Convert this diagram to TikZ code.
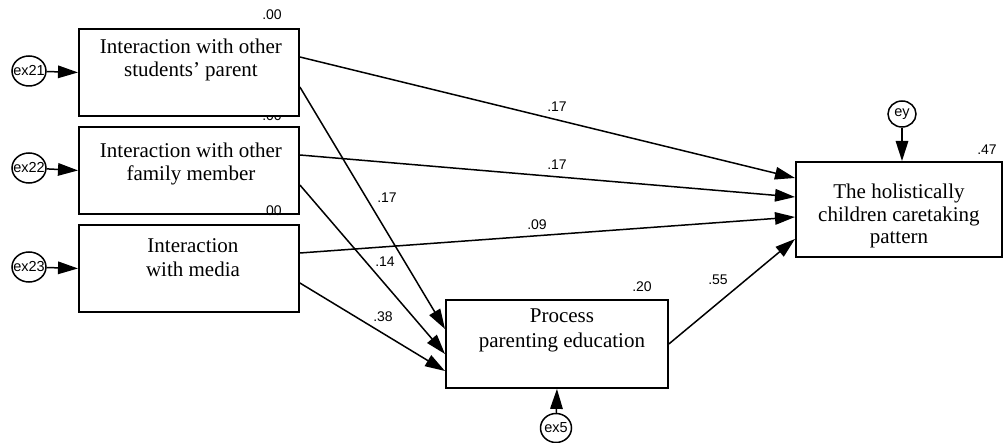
\documentclass[tikz,border=0pt]{standalone}
\usepackage{fontspec}
\setmainfont{Liberation Serif}
\setsansfont{Liberation Sans}
\usetikzlibrary{shapes.geometric,arrows.meta,calc}
\tikzset{
  box/.style={draw, line width=1.9pt, fill=white, anchor=north west, inner sep=0pt},
  btext/.style={anchor=north, align=center, inner sep=0pt, font=\fontsize{21}{22.5}\selectfont},
  err/.style={ellipse, draw, line width=1.5pt, fill=white, inner sep=0pt, minimum width=34pt, minimum height=30pt,
    label={[font=\fontsize{14.5}{15}\selectfont\sffamily, inner sep=0pt]center:#1}},
  coef/.style={font=\fontsize{14}{15}\selectfont\sffamily, inner sep=0pt},
  arr/.style={line width=1.5pt, -{Triangle[length=20pt,width=12.5pt]}},
}
\begin{document}
\begin{tikzpicture}[x=1pt,y=-1pt]
\useasboundingbox (0,0) rectangle (1004,443);
% label partly hidden by the first box
\node[coef] (r2) at (272,116) {.00};
% boxes
\node[box, minimum width=220pt, minimum height=87pt] (b1) at (78,28) {};
\node[box, minimum width=220pt, minimum height=87pt] (b2) at (78,126) {};
\node[box, minimum width=220pt, minimum height=87pt] (b3) at (78,224) {};
\node[box, minimum width=222pt, minimum height=88pt] (proc) at (445,299) {};
\node[box, minimum width=206pt, minimum height=95pt] (hol) at (795,161) {};
% box texts
\node[btext] (t1) at ($(b1.north)+(2,11)$) {Interaction with other\\students’ parent};
\node[btext] (t2) at ($(b2.north)+(2,17)$) {Interaction with other\\family member};
\node[btext] (t3) at ($(b3.north)+(4,14)$) {Interaction\\[2pt]with media};
\node[btext] (tp) at ($(proc.north)+(5,10)$) {Process\\[2.5pt]parenting education};
\node[btext] (th) at ($(hol.north)+(0,23)$) {The holistically\\children caretaking\\pattern};
% error terms
\node[err=ex21] (e21) at (29,71) {};
\node[err=ex22] (e22) at (29,168) {};
\node[err=ex23] (e23) at (29,267) {};
\node[err=ey, minimum width=28pt, minimum height=26pt] (ey) at (902,114) {};
\node[err=ex5, minimum width=31pt, minimum height=29pt] (e5) at (556,428) {};
% arrows from error terms
\draw[arr] (e21) -- (b1.west);
\draw[arr] (e22) -- (b2.west);
\draw[arr] (e23) -- (b3.west);
\draw[arr] (ey) -- (ey |- hol.north);
\draw[arr] (e5) -- (proc.south);
% paths
\draw[arr] ($(b1.north east)+(0,29)$) -- ($(hol.north west)+(0,17)$);
\draw[arr] ($(b1.north east)+(0,59)$) -- ($(proc.north west)+(0,30)$);
\draw[arr] ($(b2.north east)+(0,29)$) -- ($(hol.north west)+(0,36)$);
\draw[arr] ($(b2.north east)+(0,59)$) -- ($(proc.north west)+(0,55)$);
\draw[arr] ($(b3.north east)+(0,29)$) -- ($(hol.north west)+(0,56)$);
\draw[arr] ($(b3.north east)+(0,59)$) -- ($(proc.north west)+(0,72)$);
\draw[arr] (proc.east) -- ($(hol.north west)+(0,78)$);
% coefficients
\node[coef] (r1) at (272,15) {.00};
\node[coef] (r3) at (272,211) {.00};
\node[coef] (rp) at (642,287) {.20};
\node[coef] (rh) at (987,150) {.47};
\node[coef] (c1) at (557,107) {.17};
\node[coef] (c2) at (557,165) {.17};
\node[coef] (c3) at (537,225) {.09};
\node[coef] (c4) at (387,198) {.17};
\node[coef] (c5) at (385,262) {.14};
\node[coef] (c6) at (383,317) {.38};
\node[coef] (c7) at (718,280) {.55};
\end{tikzpicture}
\end{document}
